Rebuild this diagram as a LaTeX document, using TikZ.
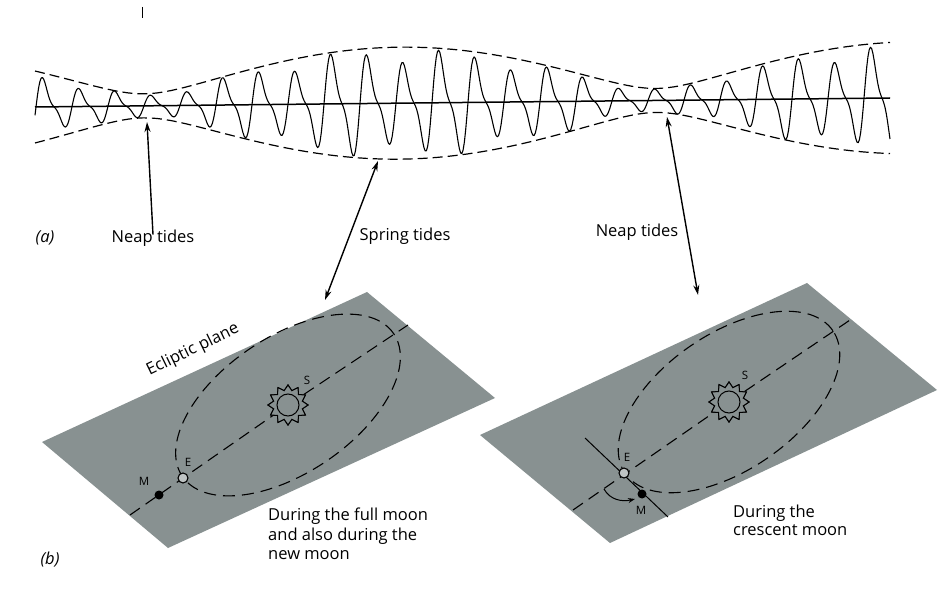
\documentclass[tikz,border=0pt]{standalone}
\usepackage{fontspec}
\setmainfont{Open Sans}
\usetikzlibrary{arrows.meta,shapes.geometric}
\definecolor{planegray}{RGB}{136,145,145}
\tikzset{
  declare function={
    tmid(\t)=107-9*(\t-35)/855;
    tamp(\t)=sqrt(34^2+22^2+2*34*22*cos(0.703125*(\t-400)));
    twave(\t)=sin(10*\t)*(1+0.7*cos(10*\t))/1.17*(0.86+0.14*sin(3.3*\t+40));
  },
  lbl/.style={font=\fontsize{16.5}{19.5}\selectfont, inner sep=0pt},
  tag/.style={font=\fontsize{11.5}{13}\selectfont, inner sep=0pt},
  envelope/.style={line width=1.2pt, dash pattern=on 10pt off 5pt},
  meanline/.style={line width=1.5pt},
  tide/.style={line width=1.1pt, line join=round},
  pointer/.style={line width=1.4pt, -{Stealth[length=10pt,width=6pt]}},
  twopointer/.style={line width=1.4pt, {Stealth[length=10pt,width=6pt]}-{Stealth[length=10pt,width=6pt]}},
  orbit/.style={line width=1.1pt, dash pattern=on 12pt off 7pt},
  sunrays/.style={star, star points=12, star point ratio=1.35, minimum size=40pt, inner sep=0pt, draw, line width=1pt, fill=planegray},
  sundisc/.style={circle, minimum size=22pt, inner sep=0pt, draw, line width=1pt, fill=planegray},
  earth/.style={circle, minimum size=10pt, inner sep=0pt, draw, line width=1.1pt, fill=white!45!planegray},
  moon/.style={circle, minimum size=9pt, inner sep=0pt, fill=black},
}
\begin{document}
\begin{tikzpicture}[x=1pt,y=-1pt]
\useasboundingbox (0,0) rectangle (951,596);
% (a) tide record
\draw[line width=0.8pt] (142,7) -- (142,18);
\draw[meanline] (35,107) -- (890,98);
\draw[envelope] plot[domain=35:890, samples=120] (\x,{tmid(\x)-tamp(\x)});
\draw[envelope] plot[domain=35:890, samples=120] (\x,{tmid(\x)+tamp(\x)});
\draw[tide] plot[domain=35:890, samples=700] (\x,{tmid(\x)-tamp(\x)*twave(\x)});

\node[lbl, font=\fontsize{16.5}{19.5}\selectfont\itshape] (parta) at (45,238) {(a)};
\node[lbl] (neapL) at (153,238) {Neap tides};
\node[lbl] (spring) at (405,236) {Spring tides};
\node[lbl] (neapR) at (637,232) {Neap tides};
\coordinate (neapLtip) at (147,122);
\coordinate (springtop) at (378,161);
\coordinate (springbot) at (325,300);
\coordinate (neapRtop) at (667,117);
\coordinate (neapRbot) at (698,295);
\draw[pointer] ([yshift=-5pt]neapL.north) -- (neapLtip);
\draw[twopointer] (springbot) -- (springtop);
\draw[twopointer] (neapRtop) -- (neapRbot);

% (b) left plane, full and new moon
\fill[planegray] (42,442) -- (367,292) -- (495,398) -- (168,548) -- cycle;
\node[sunrays] (sunL) at (288,405) {};
\draw[orbit, rotate around={34:(sunL)}] (sunL) ellipse[x radius=127.5pt, y radius=68pt];
\coordinate (axL1) at (130,515);
\coordinate (axL2) at (408,325);
\draw[orbit] (axL1) -- (sunL.center);
\draw[orbit] (sunL.center) -- (axL2);
\node[sunrays] at (sunL) {};
\node[sundisc] at (sunL) {};
\node[earth] (earthL) at (183,478) {};
\node[moon] (moonL) at (159,495) {};
\node[tag] at (307,380) {S};
\node[tag] at (188,462) {E};
\node[tag] at (144,481) {M};
\node[lbl, rotate=26] (ecl) at (193,350) {Ecliptic plane};
\node[lbl, anchor=north west, align=left] (fullnew) at (268,508) {During the full moon\\and also during the\\new moon};
\node[lbl, font=\fontsize{16.5}{19.5}\selectfont\itshape] (partb) at (50,560) {(b)};

% (b) right plane, crescent moon
\fill[planegray] (480,435) -- (807,283) -- (937,390) -- (610,543) -- cycle;
\node[sunrays] (sunR) at (729,402) {};
\draw[orbit, rotate around={34.5:(sunR)}] (sunR) ellipse[x radius=126pt, y radius=68pt];
\coordinate (axR1) at (573,510);
\coordinate (axR2) at (853,318);
\draw[orbit] (axR1) -- (sunR.center);
\draw[orbit] (sunR.center) -- (axR2);
\node[sunrays] at (sunR) {};
\node[sundisc] at (sunR) {};
\coordinate (qR1) at (585,438);
\coordinate (qR2) at (668,517);
\draw[line width=1pt] (qR1) -- (qR2);
\node[earth] (earthR) at (624,473) {};
\node[moon] (moonR) at (642,494) {};
\coordinate (turnS) at (604,489);
\coordinate (turnE) at (635,499);
\draw[line width=1pt, -{Stealth[length=7pt,width=5pt]}] (turnS) .. controls (610,500) and (622,502) .. (turnE);
\node[tag] at (745,375) {S};
\node[tag] at (627,457) {E};
\node[tag] at (641,510) {M};
\node[lbl, anchor=north west, align=left, font=\fontsize{16.5}{18}\selectfont] (crescent) at (733,505) {During the\\crescent moon};
\end{tikzpicture}
\end{document}
